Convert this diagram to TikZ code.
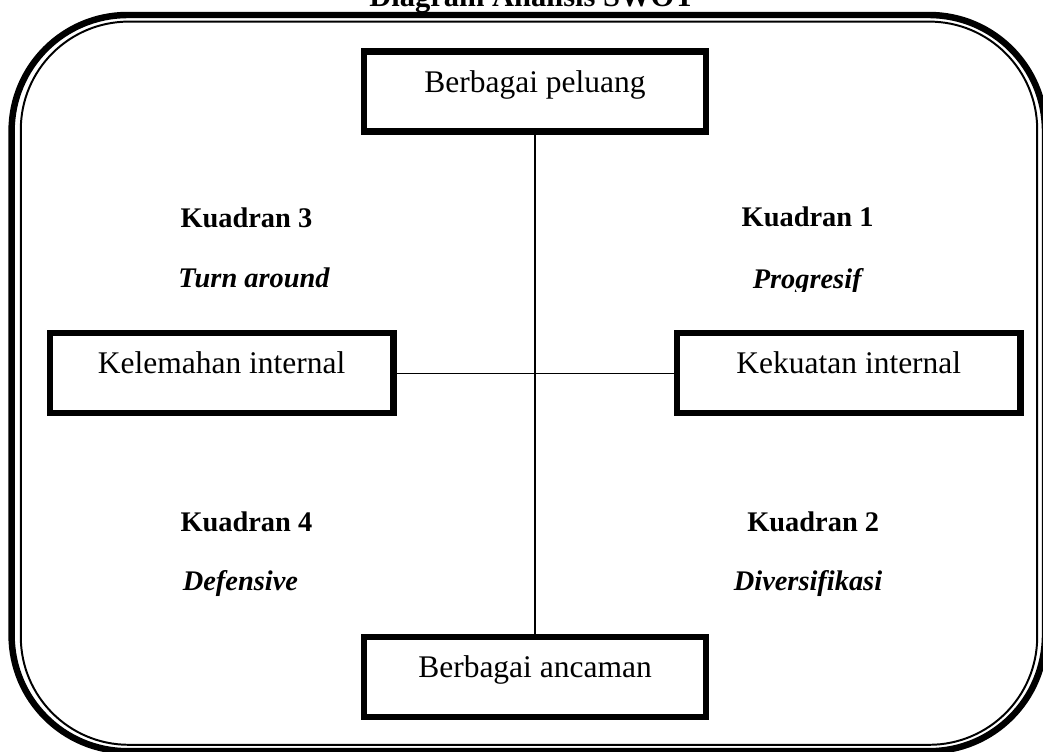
\documentclass[tikz,border=0pt]{standalone}
\usepackage{fontspec}
\setmainfont{Liberation Serif}

\begin{document}
\begin{tikzpicture}[box node/.style={rectangle, draw, line width=4.6pt, inner sep=0pt, minimum width=8.55cm, minimum height=2cm, text height=0.5cm, text depth=0.47cm, font=\fontsize{22.4}{26}\selectfont}, quadrant node/.style={anchor=base, inner sep=0pt, font=\fontsize{20.2}{24}\selectfont\bfseries}, strategy node/.style={anchor=base, inner sep=0pt, font=\fontsize{20.2}{24}\selectfont\bfseries\itshape}]
\useasboundingbox (0,0) rectangle (26.075,-18.8);

% frame
\draw[line width=4.6pt, rounded corners=2.9cm] (0.29,-0.375) rectangle (26.125,-18.78);
\draw[line width=1.4pt, rounded corners=2.7cm] (0.52,-0.54) rectangle (25.93,-18.62);

% title
\node[quadrant node, font=\fontsize{21.7}{26}\selectfont\bfseries] (title) at (13.3,-0.175) {Diagram Analisis SWOT};

% top
\node[box node] (n0) at (13.375,-2.29) {Berbagai peluang};

% bottom
\node[box node] (n1) at (13.375,-16.925) {Berbagai ancaman};

%left
\node[box node, minimum width=8.59cm] (n2) at (5.54,-9.33) {Kelemahan internal};

%right
\node[box node, minimum width=8.58cm] (n3) at (21.22,-9.33) {Kekuatan internal};

% quadrant 3
\node[quadrant node] (n4) at (6.16,-5.68) {Kuadran 3};
\node[strategy node] (n5) at (6.35,-7.18) {Turn around};

% quadrant 1
\node[quadrant node] (n6) at (20.19,-5.67) {Kuadran 1};
\begin{scope}
\clip (17,-4) rectangle (24,-7.29);
\node[strategy node] (n7) at (20.18,-7.22) {Progresif};
\end{scope}

% quadrant 4
\node[quadrant node] (n8) at (6.16,-13.28) {Kuadran 4};
\node[strategy node] (n9) at (6.01,-14.75) {Defensive};

% quadrant 2
\node[quadrant node] (n10) at (20.33,-13.28) {Kuadran 2};
\node[strategy node] (n11) at (20.2,-14.76) {Diversifikasi};

\path[]
% top -> bottom
(n0) [-, line width=0.92pt] edge (n1)
% left -> right
(n2) [-, line width=0.92pt] edge (n3)
;

\end{tikzpicture}
\end{document}
